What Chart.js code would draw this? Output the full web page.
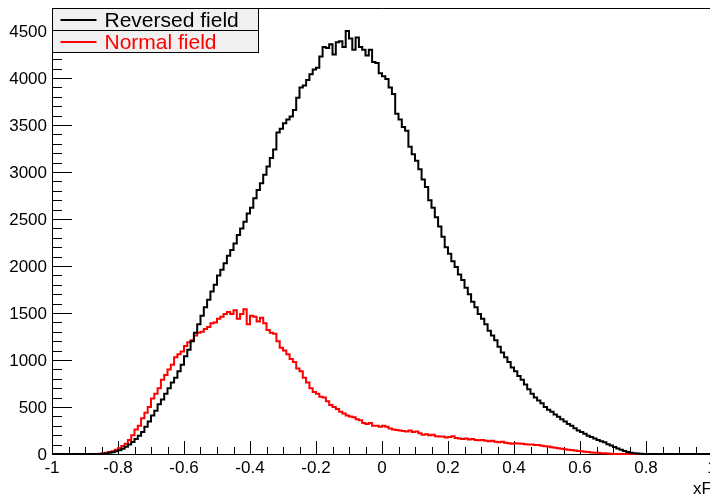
<!DOCTYPE html>
<html>
<head>
<meta charset="utf-8">
<script src="https://cdn.jsdelivr.net/npm/chart.js@4/dist/chart.umd.min.js"></script>
<style>
  html, body { margin: 0; padding: 0; overflow: hidden; background: #fff; width: 710px; height: 495px; }
  canvas { display: block; }
</style>
</head>
<body>
<canvas id="c" width="730" height="495"></canvas>
<script>
// Histogram binning: 200 bins of width 0.01 from -1 to 1
const binLow = -1.0;
const binWidth = 0.01;

// Bin contents, one entry per bin (left edge -1.00, -0.99, ...)
const reversedField = [
  0,0,0,0,0,0,0,0,0,0,0,0,0,0,
  1,3,6,12,18,28,40,55,78,100,
  128,160,195,235,290,345,410,460,530,580,
  640,700,760,810,880,950,1040,1110,1200,1290,
  1380,1470,1560,1640,1730,1800,1900,1960,2030,2110,
  2170,2240,2330,2400,2470,2560,2620,2720,2810,2880,
  2970,3060,3150,3240,3420,3460,3520,3560,3590,3660,
  3790,3900,3920,3980,4040,4090,4110,4230,4330,4320,
  4360,4250,4380,4390,4330,4500,4420,4300,4430,4330,
  4300,4240,4300,4170,4160,4050,4020,3990,3900,3830,
  3620,3560,3480,3440,3270,3190,3120,3030,2920,2840,
  2700,2620,2520,2420,2310,2200,2130,2050,1990,1910,
  1850,1770,1700,1620,1560,1490,1440,1380,1310,1260,
  1210,1140,1080,1030,980,920,880,830,790,740,
  690,640,600,570,540,500,470,450,420,395,
  370,345,320,300,275,250,235,215,195,180,
  165,150,135,125,105,90,75,58,44,32,
  22,14,9,5,3,1,
  0,0,0,0,0,0,0,0,0,0,0,0,0,0,0,0,0,0,0,0
];

const normalField = [
  0,0,0,0,0,0,0,0,0,0,0,0,0,0,
  2,6,12,20,30,45,62,85,110,150,
  200,260,300,380,440,500,590,640,700,790,
  840,900,950,1030,1060,1090,1150,1190,1210,1260,
  1290,1300,1330,1350,1390,1400,1440,1460,1490,1510,
  1490,1530,1440,1490,1540,1380,1470,1460,1410,1450,
  1390,1320,1290,1280,1200,1130,1100,1060,1010,980,
  910,880,810,760,700,660,640,610,600,560,
  520,500,480,450,430,410,400,390,370,360,
  330,320,330,300,300,290,300,290,270,260,
  255,250,245,240,250,235,240,220,205,210,
  200,205,190,185,185,175,180,190,170,165,
  160,165,155,160,150,145,150,140,135,140,
  130,125,130,120,115,110,115,112,108,104,
  100,100,95,95,88,82,80,72,66,60,
  55,50,45,42,36,32,28,24,20,17,
  14,12,9,7,5,3,1,
  0,0,0,0,0,0,0,0,0,0,0,0,0,0,0,0,0,0,0,0,0,0,0,0,0,0,0,0,0
];

const seriesNames = ['Reversed field', 'Normal field'];
const seriesColors = ['#000000', '#ff0000'];

// Axis tick labels
const xTickValues = [-1, -0.8, -0.6, -0.4, -0.2, 0, 0.2, 0.4, 0.6, 0.8, 1];
const xTickLabels = ['-1', '-0.8', '-0.6', '-0.4', '-0.2', '0', '0.2', '0.4', '0.6', '0.8', '1'];
const yTickValues = [0, 500, 1000, 1500, 2000, 2500, 3000, 3500, 4000, 4500];
const yTickLabels = ['0', '500', '1000', '1500', '2000', '2500', '3000', '3500', '4000', '4500'];

const xRange = [-1, 1];
const yMax = 4745;
const xTitle = 'xF';

const FONT = '"Liberation Sans", Arial, Helvetica, sans-serif';

// Step outline: each bin's left edge carries its content; close at the upper edge
function histPoints(values) {
  const pts = values.map((v, i) => ({ x: binLow + i * binWidth, y: v }));
  pts.push({ x: binLow + values.length * binWidth, y: values[values.length - 1] });
  return pts;
}

// Frame, inward tick marks, tick labels and the boxed legend
const frameAndLegend = {
  id: 'frameAndLegend',
  beforeDatasetsDraw(chart) {
    const { ctx, chartArea: a, scales: { x, y } } = chart;
    ctx.save();
    ctx.strokeStyle = '#000';
    ctx.lineWidth = 1;
    ctx.beginPath();
    ctx.rect(a.left + 0.5, a.top + 0.5, a.right - a.left, a.bottom - a.top);
    for (let k = 0; k <= 40; k++) {
      const v = xRange[0] + k * 0.05;
      const px = Math.round(x.getPixelForValue(v)) + 0.5;
      const len = k % 4 === 0 ? 13 : 7;
      ctx.moveTo(px, a.bottom);
      ctx.lineTo(px, a.bottom - len);
    }
    for (let v = 0; v <= yMax; v += 100) {
      const py = Math.round(y.getPixelForValue(v)) + 0.5;
      const len = v % 500 === 0 ? 20 : 10;
      ctx.moveTo(a.left, py);
      ctx.lineTo(a.left + len, py);
    }
    ctx.stroke();

    ctx.fillStyle = '#000';
    ctx.font = '17px ' + FONT;
    ctx.textBaseline = 'alphabetic';
    ctx.textAlign = 'center';
    xTickValues.forEach((v, i) => {
      ctx.fillText(xTickLabels[i], x.getPixelForValue(v), a.bottom + 19);
    });
    ctx.textAlign = 'right';
    yTickValues.forEach((v, i) => {
      ctx.fillText(yTickLabels[i], a.left - 5, Math.round(y.getPixelForValue(v)) + 6);
    });
    ctx.restore();
  },
  afterDraw(chart) {
    const { ctx, chartArea: a } = chart;
    const left = a.left + 0.5, top = a.top + 0.5;
    const w = 206, rowH = 22;
    const ds = chart.data.datasets;
    ctx.save();
    ctx.fillStyle = '#f0f0f0';
    ctx.fillRect(left, top, w, rowH * ds.length);
    ctx.strokeStyle = '#000';
    ctx.lineWidth = 1;
    ctx.strokeRect(left, top, w, rowH * ds.length);
    ctx.font = '21px ' + FONT;
    ctx.textBaseline = 'middle';
    ds.forEach((d, i) => {
      if (i > 0) {
        ctx.beginPath();
        ctx.moveTo(left, top + rowH * i);
        ctx.lineTo(left + w, top + rowH * i);
        ctx.strokeStyle = '#000';
        ctx.lineWidth = 1;
        ctx.stroke();
      }
      const cy = Math.round(top + rowH * i + rowH / 2);
      ctx.beginPath();
      ctx.moveTo(left + 8, cy);
      ctx.lineTo(left + 44, cy);
      ctx.strokeStyle = d.borderColor;
      ctx.lineWidth = 2;
      ctx.stroke();
      ctx.fillStyle = d.borderColor;
      ctx.fillText(d.label, left + 52, cy + 1);
    });
    // axis title at the right end of the x axis
    ctx.font = '17px ' + FONT;
    ctx.fillStyle = '#000';
    ctx.textAlign = 'right';
    ctx.textBaseline = 'alphabetic';
    ctx.fillText(xTitle, a.right, 494);
    ctx.restore();
  }
};

new Chart(document.getElementById('c'), {
  type: 'line',
  data: {
    datasets: [
      { label: seriesNames[0], data: histPoints(reversedField), borderColor: seriesColors[0], borderWidth: 2, stepped: true, pointRadius: 0, fill: false, clip: 4 },
      { label: seriesNames[1], data: histPoints(normalField), borderColor: seriesColors[1], borderWidth: 2, stepped: true, pointRadius: 0, fill: false, clip: 4 }
    ]
  },
  options: {
    responsive: false,
    animation: false,
    devicePixelRatio: 1,
    layout: { padding: { left: 0, right: 18, top: 8, bottom: 0 } },
    plugins: { legend: { display: false }, tooltip: { enabled: false } },
    scales: {
      x: {
        type: 'linear',
        min: xRange[0], max: xRange[1],
        grid: { display: false, drawTicks: false },
        border: { display: false },
        ticks: { display: false },
        afterFit(s) { s.height = 41; }
      },
      y: {
        min: 0, max: yMax,
        grid: { display: false, drawTicks: false },
        border: { display: false },
        ticks: { display: false },
        afterFit(s) { s.width = 52; }
      }
    }
  },
  plugins: [frameAndLegend]
});
</script>
</body>
</html>
